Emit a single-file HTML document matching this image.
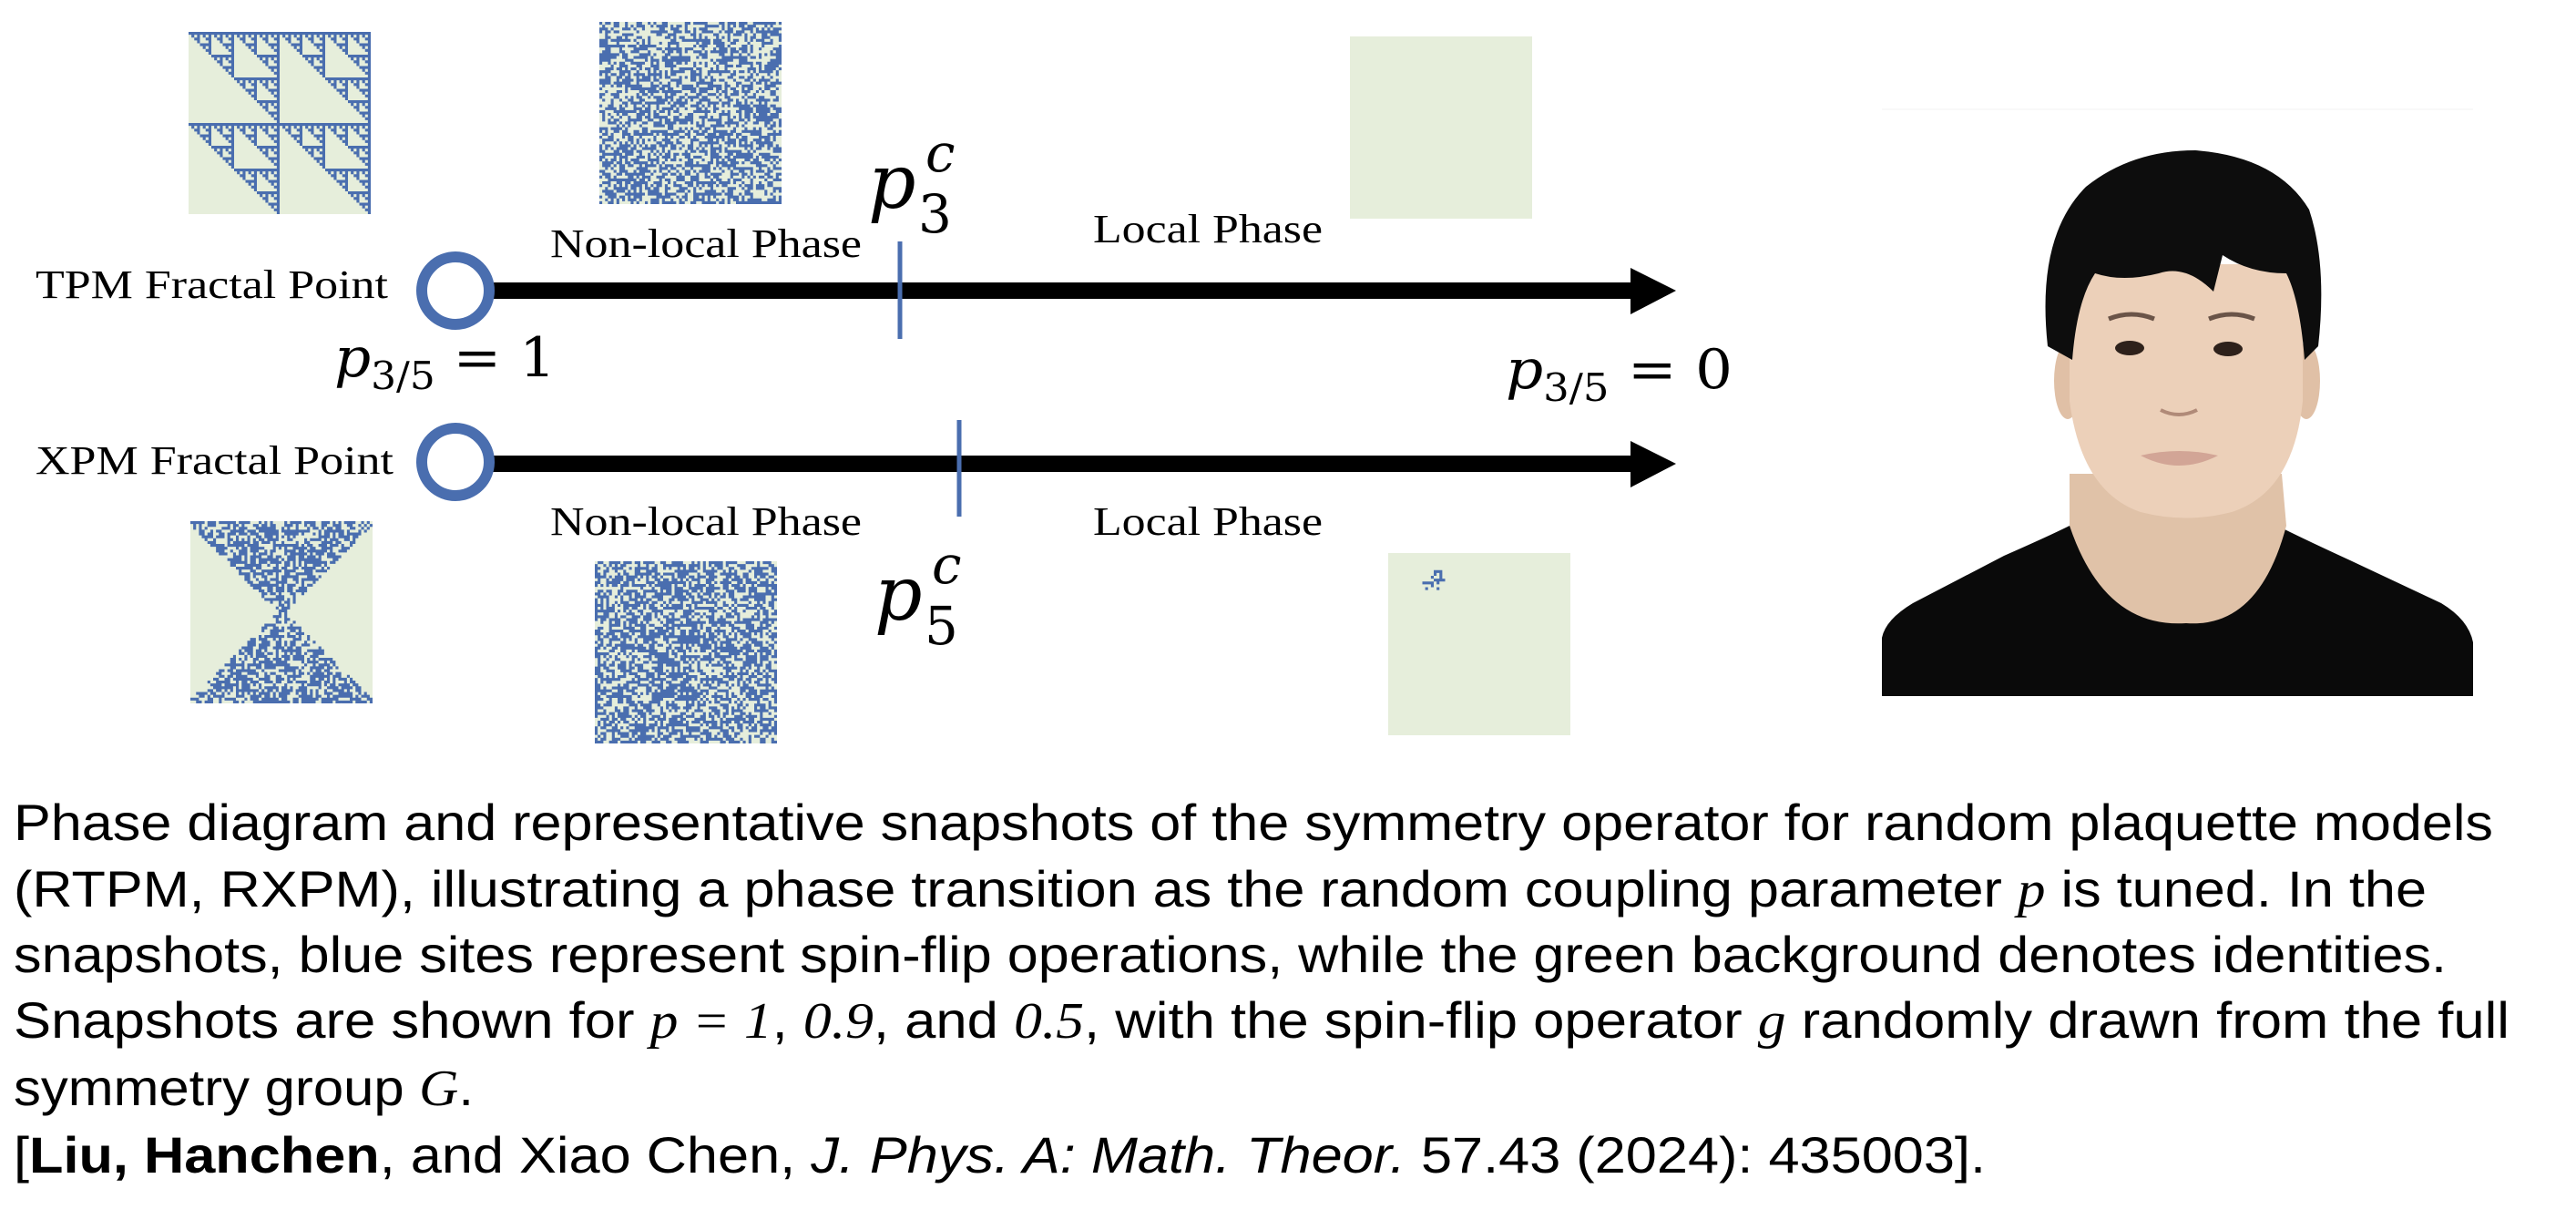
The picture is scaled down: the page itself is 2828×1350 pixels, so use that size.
<!DOCTYPE html>
<html><head><meta charset="utf-8"><style>
html,body{margin:0;padding:0;background:#fff;}
svg{display:block;}
.t{font-family:"Liberation Serif",serif;font-size:44px;fill:#000;}
.m{font-family:"DejaVu Serif","Liberation Serif",serif;fill:#000;}
.c{font-family:"Liberation Sans",sans-serif;font-size:56px;fill:#000;}
</style></head><body>
<svg id="s" width="2828" height="1350" viewBox="0 0 2828 1350" xmlns="http://www.w3.org/2000/svg">
<rect width="2828" height="1350" fill="#fff"/>
<g id="snaps"></g>
<line x1="540" y1="319" x2="1795" y2="319" stroke="#000" stroke-width="18"/>
<polygon points="1790,294 1840,319 1790,345" fill="#000"/>
<circle cx="500" cy="319" r="37" fill="#fff" stroke="#4a6eaf" stroke-width="12"/>
<line x1="988" y1="265" x2="988" y2="372" stroke="#4a6eaf" stroke-width="5"/>
<line x1="540" y1="509" x2="1795" y2="509" stroke="#000" stroke-width="18"/>
<polygon points="1790,484 1840,509 1790,535" fill="#000"/>
<circle cx="500" cy="507" r="37" fill="#fff" stroke="#4a6eaf" stroke-width="12"/>
<line x1="1053" y1="461" x2="1053" y2="567" stroke="#4a6eaf" stroke-width="5"/>

<text class="t" x="39" y="327" textLength="387" lengthAdjust="spacingAndGlyphs">TPM Fractal Point</text>
<text class="t" x="39" y="520" textLength="393" lengthAdjust="spacingAndGlyphs">XPM Fractal Point</text>
<text class="t" x="604" y="282" textLength="342" lengthAdjust="spacingAndGlyphs">Non-local Phase</text>
<text class="t" x="1200" y="266" textLength="252" lengthAdjust="spacingAndGlyphs">Local Phase</text>
<text class="t" x="604" y="587" textLength="342" lengthAdjust="spacingAndGlyphs">Non-local Phase</text>
<text class="t" x="1200" y="587" textLength="252" lengthAdjust="spacingAndGlyphs">Local Phase</text>

<text class="m" x="953" y="228" font-size="82" font-style="italic">p</text>
<text class="m" x="1008" y="255" font-size="58">3</text>
<text class="m" x="1016" y="188" font-size="58" font-style="italic">c</text>

<text class="m" x="960" y="680" font-size="82" font-style="italic">p</text>
<text class="m" x="1015" y="707" font-size="58">5</text>
<text class="m" x="1023" y="640" font-size="58" font-style="italic">c</text>

<text class="m" x="367" y="413" font-size="60" textLength="243" lengthAdjust="spacingAndGlyphs"><tspan font-style="italic">p</tspan><tspan font-size="42" dy="14">3/5</tspan><tspan dy="-14"> = 1</tspan></text>
<text class="m" x="1653" y="426" font-size="60" textLength="249" lengthAdjust="spacingAndGlyphs"><tspan font-style="italic">p</tspan><tspan font-size="42" dy="14">3/5</tspan><tspan dy="-14"> = 0</tspan></text>

<line x1="2066" y1="120" x2="2715" y2="120" stroke="#f3f3f3" stroke-width="1"/>
<g>
<path d="M2066,764 L2066,700 Q2070,680 2100,662 L2200,610 Q2250,588 2272,577 L2500,577 Q2530,592 2580,615 L2680,662 Q2710,680 2715,705 L2715,764 Z" fill="#0a0a0a"/>
<path d="M2272,520 L2272,577 Q2310,690 2400,684 Q2480,690 2510,577 L2505,520 Z" fill="#e0c2a8"/>
<ellipse cx="2270" cy="418" rx="15" ry="42" fill="#e0c0a6"/>
<ellipse cx="2532" cy="418" rx="15" ry="42" fill="#e0c0a6"/>
<path d="M2272,290 L2272,440 Q2285,540 2350,562 Q2400,575 2450,562 Q2518,540 2528,440 L2528,290 Z" fill="#ecd0b9"/>
<path d="M2248,380 Q2235,260 2290,205 Q2340,165 2410,165 Q2500,172 2535,230 Q2555,290 2545,380 L2530,395 Q2525,330 2510,300 Q2470,300 2440,280 L2430,320 Q2400,290 2370,300 Q2330,310 2300,300 Q2280,330 2275,395 Z" fill="#0d0d0d"/>
<path d="M2315,350 Q2340,340 2365,350" stroke="#6a5448" stroke-width="5" fill="none"/>
<path d="M2425,350 Q2450,340 2475,350" stroke="#6a5448" stroke-width="5" fill="none"/>
<ellipse cx="2338" cy="382" rx="16" ry="8" fill="#2e211b"/>
<ellipse cx="2446" cy="383" rx="16" ry="8" fill="#2e211b"/>
<path d="M2372,450 Q2392,460 2412,450" stroke="#b08a78" stroke-width="4" fill="none"/>
<path d="M2350,500 Q2392,490 2435,500 Q2392,522 2350,500 Z" fill="#d2a596"/>
</g>

<text class="c" x="15" y="922" textLength="2722" lengthAdjust="spacingAndGlyphs">Phase diagram and representative snapshots of the symmetry operator for random plaquette models</text>
<text class="c" x="15" y="995" textLength="2649" lengthAdjust="spacingAndGlyphs">(RTPM, RXPM), illustrating a phase transition as the random coupling parameter <tspan font-family="Liberation Serif" font-style="italic">p</tspan> is tuned. In the</text>
<text class="c" x="15" y="1067" textLength="2671" lengthAdjust="spacingAndGlyphs">snapshots, blue sites represent spin-flip operations, while the green background denotes identities.</text>
<text class="c" x="15" y="1139" textLength="2740" lengthAdjust="spacingAndGlyphs">Snapshots are shown for  <tspan font-family="Liberation Serif" font-style="italic">p = 1</tspan>, <tspan font-family="Liberation Serif" font-style="italic">0.9</tspan>, and <tspan font-family="Liberation Serif" font-style="italic">0.5</tspan>, with the spin-flip operator <tspan font-family="Liberation Serif" font-style="italic">g</tspan> randomly drawn from the full</text>
<text class="c" x="15" y="1213" textLength="505" lengthAdjust="spacingAndGlyphs">symmetry group <tspan font-family="Liberation Serif" font-style="italic">G</tspan>.</text>
<text class="c" x="15" y="1287" textLength="2165" lengthAdjust="spacingAndGlyphs">[<tspan font-weight="bold">Liu, Hanchen</tspan>, and Xiao Chen, <tspan font-style="italic">J. Phys. A: Math. Theor.</tspan> 57.43 (2024): 435003].</text>
</svg>
<script>
(function(){
var NS="http://www.w3.org/2000/svg",g=document.getElementById("snaps");
var B="#4a6eaf",G="#e6eedb";
var seed=7;function rnd(){seed=(seed*16807)%2147483647;return seed/2147483647;}
function snap(x0,y0,sz,f){
 var r=document.createElementNS(NS,"rect");r.setAttribute("x",x0);r.setAttribute("y",y0);r.setAttribute("width",sz);r.setAttribute("height",sz);r.setAttribute("fill",G);g.appendChild(r);
 var n=64,c=sz/n,d="";
 for(var i=0;i<n;i++)for(var j=0;j<n;j++){if(f(i,j)){d+="M"+(x0+j*c).toFixed(2)+","+(y0+i*c).toFixed(2)+"h"+c.toFixed(2)+"v"+c.toFixed(2)+"h-"+c.toFixed(2)+"z";}}
 var p=document.createElementNS(NS,"path");p.setAttribute("d",d);p.setAttribute("fill",B);g.appendChild(p);
}
snap(207,35,200,function(i,j){return (i==0&&j<32)||((((63-j)%32)&(i%32))==0);});
snap(658,24,200,function(i,j){return rnd()<0.55;});
snap(1482,40,200,function(){return false;});
snap(209,572,200,function(i,j){var dx=Math.abs(j-31.5),dy=Math.abs(i-31.5);return dx<dy+2&&rnd()<0.6;});
snap(653,616,200,function(i,j){return rnd()<0.58;});
snap(1524,607,200,function(i,j){return i>5&&i<13&&j>11&&j<20&&rnd()<0.35;});
})();
</script>
</body></html>
